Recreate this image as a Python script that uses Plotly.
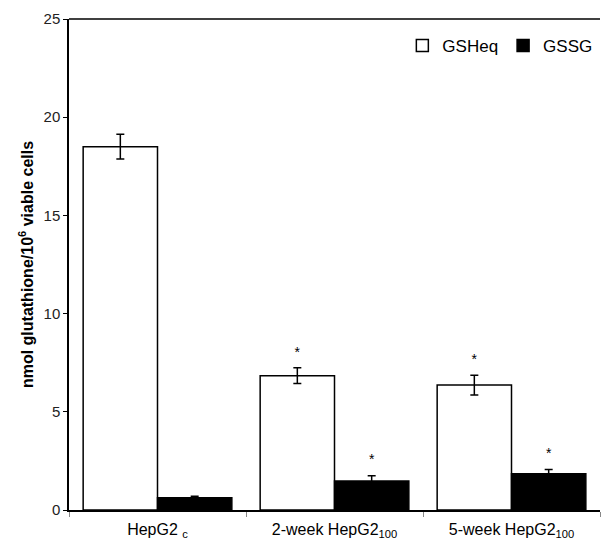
import plotly.graph_objects as go

categories = ["HepG2 <sub>c</sub>", "2-week HepG2<sub>100</sub>", "5-week HepG2<sub>100</sub>"]
gsheq = [18.5, 6.84, 6.36]
gsheq_err = [0.63, 0.40, 0.50]
gssg = [0.62, 1.48, 1.84]
gssg_err = [0.08, 0.27, 0.22]
gsheq_sig = ["", "*", "*"]
gssg_sig = ["", "*", "*"]

fig = go.Figure()
fig.add_trace(go.Bar(
    name="GSHeq", x=categories, y=gsheq,
    marker=dict(color="white", line=dict(color="black", width=1.5)),
    error_y=dict(type="data", array=gsheq_err, color="black", thickness=1.5, width=4),
    offsetgroup="a",
))
fig.add_trace(go.Bar(
    name="GSSG", x=categories, y=gssg,
    marker=dict(color="black", line=dict(color="black", width=1.5)),
    error_y=dict(type="data", array=gssg_err, color="black", thickness=1.5, width=4),
    offsetgroup="b",
))
# significance stars
fig.add_trace(go.Scatter(
    x=categories, y=[v + e + 0.75 for v, e in zip(gsheq, gsheq_err)],
    text=gsheq_sig, mode="text", textfont=dict(size=14, color="black"),
    showlegend=False, hoverinfo="skip", offsetgroup="a",
))
fig.add_trace(go.Scatter(
    x=categories, y=[v + e + 0.75 for v, e in zip(gssg, gssg_err)],
    text=gssg_sig, mode="text", textfont=dict(size=14, color="black"),
    showlegend=False, hoverinfo="skip", offsetgroup="b",
))

fig.update_layout(
    width=604, height=545,
    margin=dict(l=69, r=4, t=19, b=35),
    paper_bgcolor="white", plot_bgcolor="white",
    font=dict(family="Liberation Sans, Arial, sans-serif", size=15, color="black"),
    barmode="group", bargap=0.16, bargroupgap=0,
    scattermode="group", scattergap=0.16,
    showlegend=True,
    legend=dict(orientation="h", x=0.995, xanchor="right", y=0.945, yanchor="middle",
                font=dict(size=17), bgcolor="rgba(0,0,0,0)", itemwidth=30,
                tracegroupgap=0),
    yaxis=dict(range=[0, 25], tickvals=[0, 5, 10, 15, 20, 25], showgrid=False,
               showline=True, linecolor="black", linewidth=1.5,
               ticks="outside", ticklen=4, tickcolor="black",
               tickfont=dict(size=15, color="#222"),
               title=dict(text="<b>nmol glutathione/10<sup>6</sup> viable cells</b>",
                          font=dict(size=16), standoff=6),
               zeroline=False),
    xaxis=dict(showline=True, linecolor="black", linewidth=1.5, showgrid=False,
               ticks="outside", tickson="boundaries", ticklen=5, tickcolor="#888",
               ticklabelstandoff=4, tickfont=dict(size=16)),
)
fig.add_shape(type="line", xref="paper", yref="paper", x0=0, x1=1, y0=1, y1=1,
              line=dict(color="black", width=1.5))

fig.write_html("out.html")
